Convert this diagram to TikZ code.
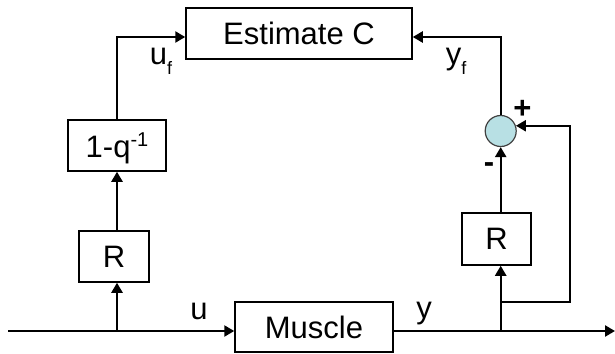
\documentclass[tikz,border=0pt]{standalone}
\usepackage{fontspec}
\setmainfont{Liberation Sans}
\usetikzlibrary{arrows.meta}
% small lowered / raised indices in the text font
\newcommand\lowidx[1]{\raisebox{-10pt}{\fontsize{18}{20}\selectfont #1}}
\newcommand\highidx[1]{\raisebox{11pt}{\fontsize{20}{22}\selectfont #1}}
\tikzset{
  block/.style={draw, line width=1.5pt, inner sep=0pt, fill=white},
  wire/.style={line width=2.3pt},
  sig/.style={wire, -{Triangle[length=10pt,width=11pt]}},
  lbl/.style={anchor=base, inner sep=0pt},
}
\begin{document}
\begin{tikzpicture}[x=1pt, y=-1pt, font=\fontsize{31}{37}\selectfont]
\useasboundingbox (0,0) rectangle (615,353);

% blocks
\node[block, minimum width=226pt, minimum height=51pt] (est)  at (299,33.5) {Estimate C};
\node[block, minimum width=98pt,  minimum height=51pt, text depth=0pt] (oneq) at (117,145.5) {1-q\highidx{-1}};
\node[block, minimum width=70pt,  minimum height=51pt] (rl)   at (114,256.5) {R};
\node[block, minimum width=158pt, minimum height=50pt] (musc) at (314,327) {Muscle};
\node[block, minimum width=69pt,  minimum height=52pt] (rr)   at (496.5,239) {R};
\node[circle, draw=black!75, line width=1.2pt, fill={rgb,255:red,184;green,224;blue,228},
      minimum size=31pt, inner sep=0pt] (sum) at (500.7,131) {};

% signal points
\coordinate (in)   at (8,331);
\coordinate (jl)   at (117,331);
\coordinate (jr)   at (500.7,331);
\coordinate (out)  at (615,331);
\coordinate (fb1)  at (500.7,302);
\coordinate (fb2)  at (570,302);
\coordinate (topl) at (117,37);
\coordinate (topr) at (500.7,37);

% forward path
\draw[sig] (in) -- (in -| musc.west);
\draw[sig] (in -| musc.east) -- (out);

% left branch
\draw[sig] (jl) -- (jl |- rl.south);
\draw[sig] (jl |- rl.north) -- (jl |- oneq.south);
\draw[sig] (jl |- oneq.north) -- (topl) -- (topl -| est.west);

% right branch
\draw[sig] (jr) -- (jr |- rr.south);
\draw[sig] (jr |- rr.north) -- (sum.south);
\draw[sig] (fb1) -- (fb2) |- (sum.19);
\draw[sig] (sum.north) -- (topr) -- (topr -| est.east);

% signal labels
\node[lbl] (lu)  at (199,319.5) {u};
\node[lbl] (ly)  at (424,318.5) {y};
\node[lbl] (luf) at (161,64) {u\lowidx{f}};
\node[lbl] (lyf) at (456,64) {y\lowidx{f}};
\node[lbl, font=\fontsize{31}{37}\selectfont\bfseries] (lp) at (522.5,118) {+};
\node[lbl, font=\fontsize{31}{37}\selectfont\bfseries] (lm) at (489,172) {-};
\end{tikzpicture}
\end{document}
